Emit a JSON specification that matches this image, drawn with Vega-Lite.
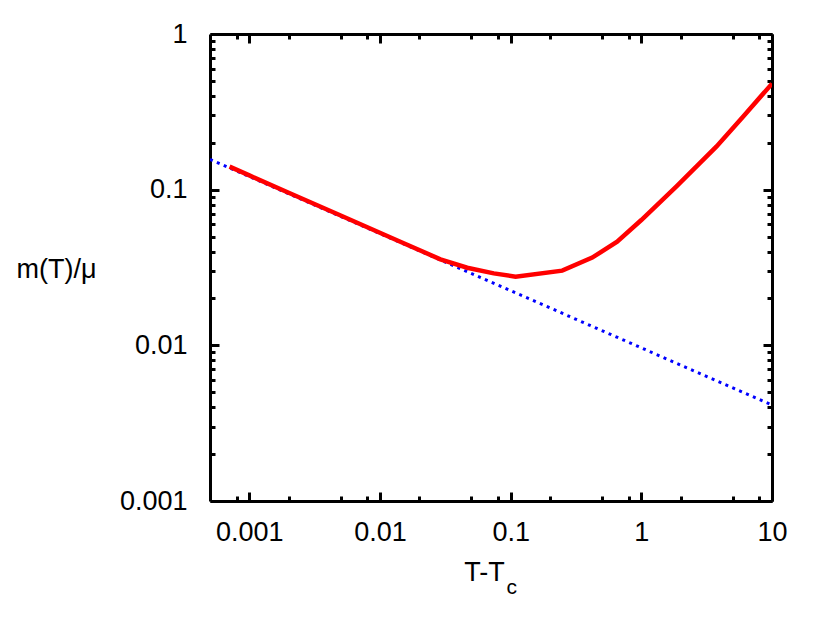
{
  "$schema": "https://vega.github.io/schema/vega-lite/v6.json",
  "width": 562,
  "height": 467,
  "autosize": "none",
  "padding": {"left": 210, "top": 34, "right": 58, "bottom": 122},
  "background": "white",
  "config": {
    "view": {"stroke": null},
    "axis": {
      "labelFont": "Liberation Sans",
      "titleFont": "Liberation Sans",
      "grid": false,
      "domainColor": "black",
      "tickColor": "black",
      "labelColor": "black",
      "titleColor": "black",
      "domainWidth": 3,
      "tickWidth": 3,
      "labelFontSize": 27,
      "titleFontSize": 27,
      "titleFontWeight": "normal",
      "labelFlush": false,
      "labelOverlap": false,
      "labelBound": false
    }
  },
  "datasets": {
    "limit": [
      {"t": 0.0005, "m": 0.1567},
      {"t": 10, "m": 0.00414}
    ],
    "full": [
      {"t": 0.000706, "m": 0.1405},
      {"t": 0.001, "m": 0.1235},
      {"t": 0.002, "m": 0.0955},
      {"t": 0.005, "m": 0.0683},
      {"t": 0.0143, "m": 0.0463},
      {"t": 0.029, "m": 0.0357},
      {"t": 0.0465, "m": 0.0315},
      {"t": 0.0743, "m": 0.029},
      {"t": 0.109, "m": 0.0276},
      {"t": 0.248, "m": 0.0302},
      {"t": 0.421, "m": 0.0366},
      {"t": 0.653, "m": 0.0463},
      {"t": 1, "m": 0.0638},
      {"t": 1.85, "m": 0.1045},
      {"t": 3.75, "m": 0.1888},
      {"t": 6.0, "m": 0.294},
      {"t": 10, "m": 0.48}
    ]
  },
  "layer": [
    {
      "data": {"name": "limit"},
      "mark": {"type": "line", "color": "#0000ff", "strokeWidth": 3, "strokeDash": [3, 4.5], "clip": true},
      "encoding": {
        "x": {
          "field": "t", "type": "quantitative",
          "scale": {"type": "log", "domain": [0.0005, 10], "nice": false},
          "axis": {
            "orient": "bottom", "values": [0.001, 0.01, 0.1, 1, 10], "format": "~g",
            "tickSize": -9, "labelPadding": 27, "labelBaseline": "top",
            "title": "T-T", "titleX": 274, "titleY": 79, "titleAlign": "center", "titleBaseline": "alphabetic"
          }
        },
        "y": {
          "field": "m", "type": "quantitative",
          "scale": {"type": "log", "domain": [0.001, 1], "nice": false},
          "axis": {
            "orient": "left", "values": [0.001, 0.01, 0.1, 1], "format": "~g",
            "tickSize": -9, "labelPadding": 32, "labelBaseline": "middle",
            "title": "m(T)/μ", "titleAngle": 0, "titleX": -194, "titleY": 243, "titleAlign": "left", "titleBaseline": "alphabetic"
          }
        }
      }
    },
    {
      "data": {"name": "full"},
      "mark": {"type": "line", "color": "#ff0000", "strokeWidth": 4.5, "clip": true},
      "encoding": {
        "x": {
          "field": "t", "type": "quantitative",
          "scale": {"type": "log", "domain": [0.0005, 10], "nice": false},
          "axis": {"orient": "top", "values": [0.001, 0.01, 0.1, 1, 10], "tickSize": -9, "labels": false, "title": null}
        },
        "y": {
          "field": "m", "type": "quantitative",
          "scale": {"type": "log", "domain": [0.001, 1], "nice": false},
          "axis": {"orient": "right", "values": [0.001, 0.01, 0.1, 1], "tickSize": -9, "labels": false, "title": null}
        }
      }
    },
    {
      "data": {"name": "limit"},
      "mark": {"type": "line", "strokeOpacity": 0},
      "encoding": {
        "x": {
          "field": "t", "type": "quantitative",
          "scale": {"type": "log", "domain": [0.0005, 10], "nice": false},
          "axis": {
            "orient": "bottom", "values": [0.0008, 0.002, 0.005, 0.008, 0.02, 0.05, 0.08, 0.2, 0.5, 0.8, 2, 5, 8],
            "tickSize": -5, "labels": false, "domain": false,
            "title": "c", "titleFontSize": 21, "titleX": 296, "titleY": 92, "titleAlign": "left", "titleBaseline": "alphabetic"
          }
        },
        "y": {
          "field": "m", "type": "quantitative",
          "scale": {"type": "log", "domain": [0.001, 1], "nice": false},
          "axis": {
            "orient": "left",
            "values": [0.002, 0.003, 0.004, 0.005, 0.006, 0.007, 0.008, 0.009, 0.02, 0.03, 0.04, 0.05, 0.06, 0.07, 0.08, 0.09, 0.2, 0.3, 0.4, 0.5, 0.6, 0.7, 0.8, 0.9],
            "tickSize": -5, "labels": false, "domain": false, "title": null
          }
        }
      }
    },
    {
      "data": {"name": "limit"},
      "mark": {"type": "line", "strokeOpacity": 0},
      "encoding": {
        "x": {
          "field": "t", "type": "quantitative",
          "scale": {"type": "log", "domain": [0.0005, 10], "nice": false},
          "axis": {
            "orient": "top", "values": [0.0008, 0.002, 0.005, 0.008, 0.02, 0.05, 0.08, 0.2, 0.5, 0.8, 2, 5, 8],
            "tickSize": -5, "labels": false, "domain": false, "title": null
          }
        },
        "y": {
          "field": "m", "type": "quantitative",
          "scale": {"type": "log", "domain": [0.001, 1], "nice": false},
          "axis": {
            "orient": "right",
            "values": [0.002, 0.003, 0.004, 0.005, 0.006, 0.007, 0.008, 0.009, 0.02, 0.03, 0.04, 0.05, 0.06, 0.07, 0.08, 0.09, 0.2, 0.3, 0.4, 0.5, 0.6, 0.7, 0.8, 0.9],
            "tickSize": -5, "labels": false, "domain": false, "title": null
          }
        }
      }
    }
  ],
  "resolve": {"axis": {"x": "independent", "y": "independent"}}
}
